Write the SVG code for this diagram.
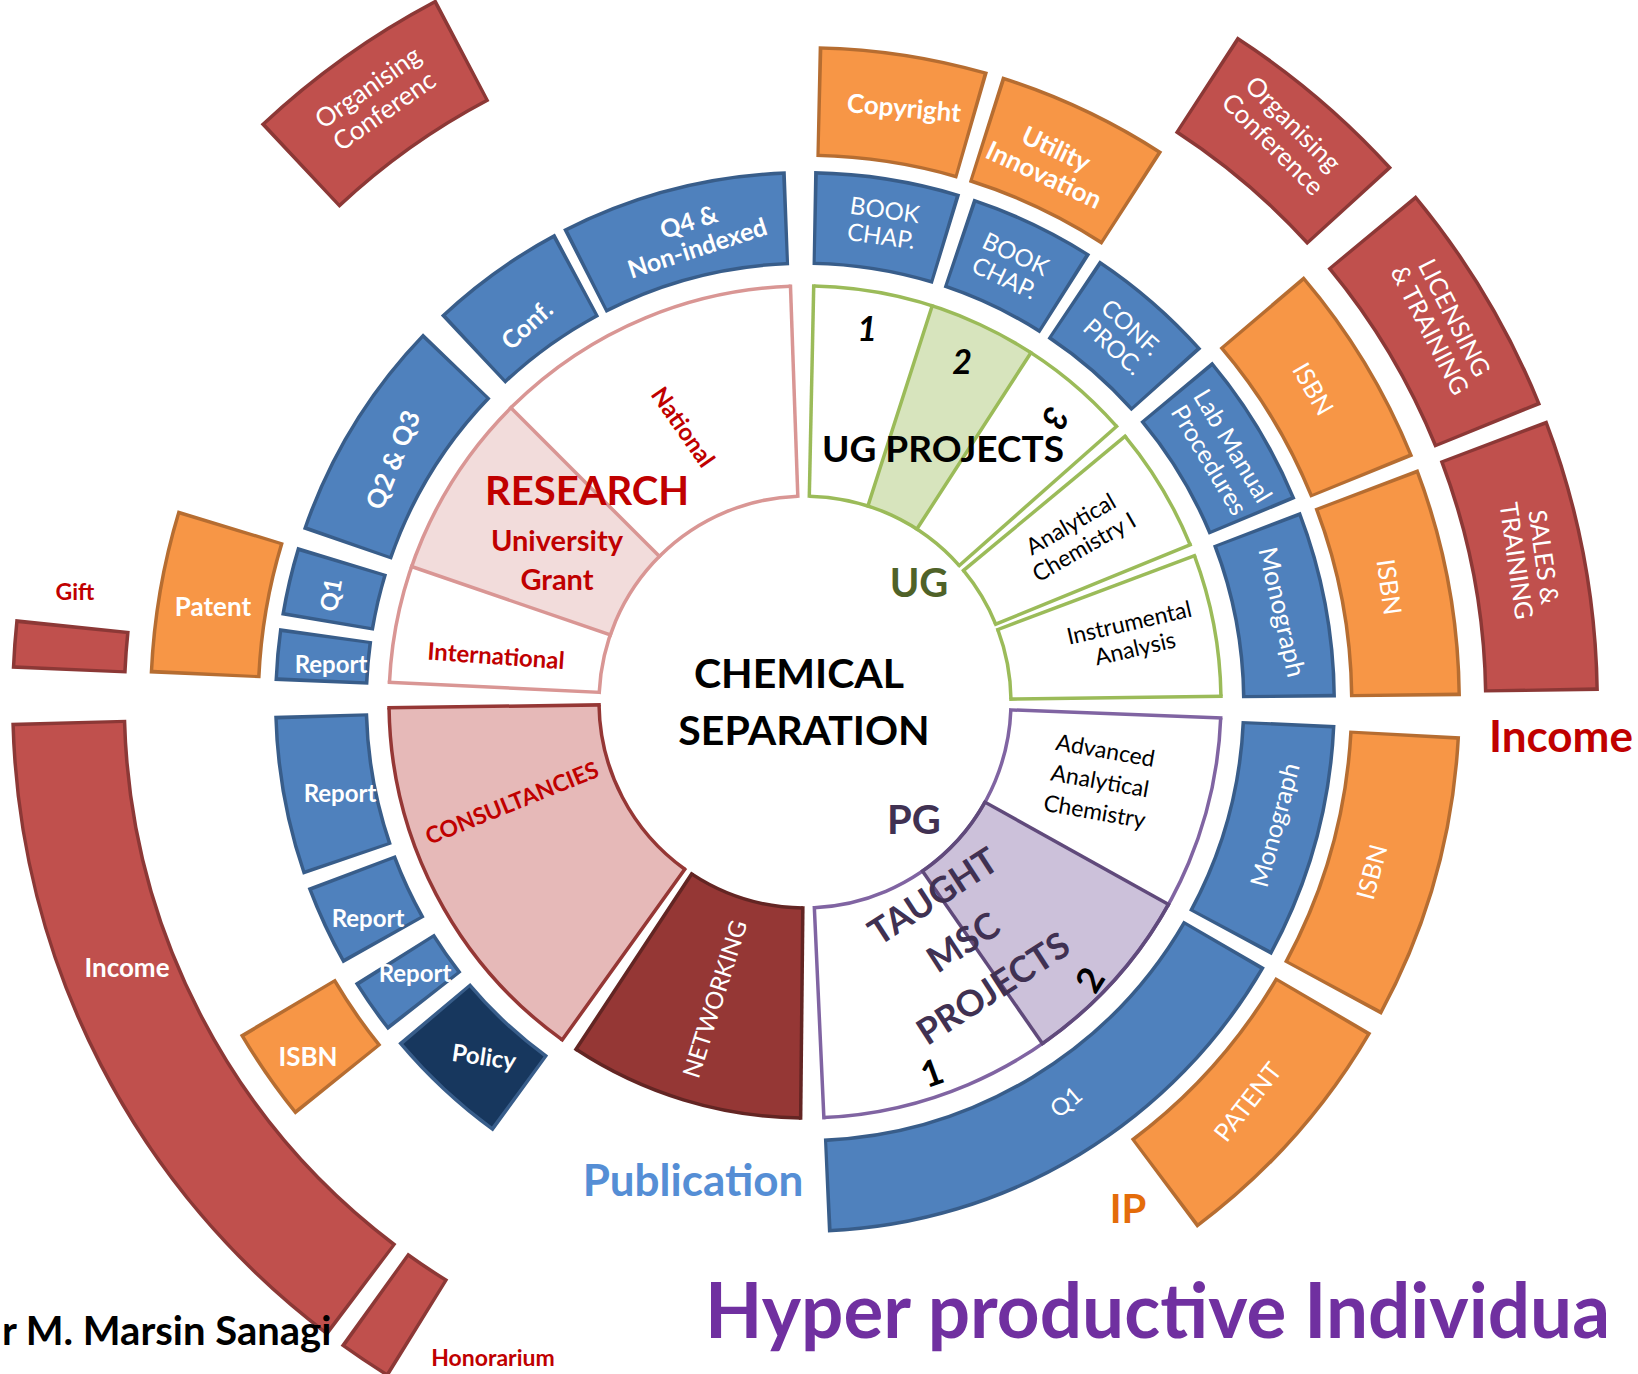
<svg xmlns="http://www.w3.org/2000/svg" xmlns:xlink="http://www.w3.org/1999/xlink" width="1638" height="1374" viewBox="0 0 1638 1374">
<defs>
<style>
text{font-family:Lato,'Open Sans','DejaVu Sans',sans-serif;text-anchor:middle}
.w{fill:#fff}
.b{font-weight:bold}
.bb{stroke:#385D8A;stroke-width:94}
.bf{stroke:#4F81BD;stroke-width:87}
.nf{stroke:#17375E;stroke-width:87}
.ob{stroke:#B66D31;stroke-width:111}
.of{stroke:#F79646;stroke-width:104}
.rb{stroke:#8C3836;stroke-width:115}
.rf{stroke:#C0504D;stroke-width:108}
.f1{stroke-width:210}
.a1{stroke-width:3.5}
.rl{stroke-width:3.5;stroke-linecap:square}
</style>
<path id="c206" d="M1011 702A206 206 0 0 1 599 702A206 206 0 0 1 1011 702" pathLength="360" fill="none"/>
<path id="c311" d="M1116 702A311 311 0 0 1 494 702A311 311 0 0 1 1116 702" pathLength="360" fill="none"/>
<path id="c416" d="M1221 702A416 416 0 0 1 389 702A416 416 0 0 1 1221 702" pathLength="360" fill="none"/>
<path id="c484" d="M1289 702A484 484 0 0 1 321 702A484 484 0 0 1 1289 702" pathLength="360" fill="none"/>
<path id="c600" d="M1405.5 702A600.5 600.5 0 0 1 204.5 702A600.5 600.5 0 0 1 1405.5 702" pathLength="360" fill="none"/>
<path id="c736" d="M1541.5 702A736.5 736.5 0 0 1 68.5 702A736.5 736.5 0 0 1 1541.5 702" pathLength="360" fill="none"/>
<line id="rad" x1="1011" y1="702" x2="1221" y2="702"/>
</defs>
<rect width="1638" height="1374" fill="#fff"/>

<!-- Inner ring: RESEARCH -->
<g id="research" stroke="#D99694">
<use href="#c311" class="f1" stroke="#fff" stroke-dasharray="0 182.7 85.3 999"/>
<use href="#c311" class="f1" stroke="#F2DCDB" stroke-dasharray="0 199 26 999"/>
<use href="#c206" class="a1" stroke-dasharray="0 182.7 85.3 999"/>
<use href="#c416" class="a1" stroke-dasharray="0 182.7 85.3 999"/>
<use href="#rad" class="rl" transform="rotate(-92 805 702)"/>
<use href="#rad" class="rl" transform="rotate(-135 805 702)"/>
<use href="#rad" class="rl" transform="rotate(-161 805 702)"/>
<use href="#rad" class="rl" transform="rotate(-177.3 805 702)"/>
<text x="587" y="505" class="b" font-size="40" fill="#C00000" stroke="none">RESEARCH</text>
<text x="557" y="551" class="b" font-size="29" fill="#C00000" stroke="none">University</text>
<text x="557" y="590" class="b" font-size="29" fill="#C00000" stroke="none">Grant</text>
<text transform="translate(683 427) rotate(55)" dy="0.35em" class="b" font-size="24" fill="#C00000" stroke="none">National</text>
<text transform="translate(496 656) rotate(4)" dy="0.35em" class="b" font-size="24" fill="#C00000" stroke="none">International</text>
</g>

<!-- Inner ring: UG -->
<g id="ug" stroke="#9BBB59">
<use href="#c311" class="f1" stroke="#fff" stroke-dasharray="0 271.2 47.3 999"/>
<use href="#c311" class="f1" stroke="#D7E4BD" stroke-dasharray="0 287.8 15.1 999"/>
<use href="#c206" class="a1" stroke-dasharray="0 271.2 47.3 999"/>
<use href="#c416" class="a1" stroke-dasharray="0 271.2 47.3 999"/>
<use href="#rad" class="rl" transform="rotate(-88.8 805 702)"/>
<use href="#rad" class="rl" transform="rotate(-72.2 805 702)"/>
<use href="#rad" class="rl" transform="rotate(-57.1 805 702)"/>
<use href="#rad" class="rl" transform="rotate(-41.5 805 702)"/>
<text x="943" y="462" class="b" font-size="37" fill="#000" stroke="none">UG PROJECTS</text>
<text x="867" y="341" class="b" font-size="34" font-style="italic" fill="#000" stroke="none">1</text>
<text x="962" y="374" class="b" font-size="34" font-style="italic" fill="#000" stroke="none">2</text>
<text transform="translate(1055 418) rotate(115)" dy="0.35em" class="b" font-size="34" font-style="italic" fill="#000" stroke="none">3</text>
<text x="919" y="597" class="b" font-size="40" fill="#4F6228" stroke="none">UG</text>
</g>
<g id="ug-analytical" stroke="#9BBB59">
<use href="#c206" class="a1" stroke-dasharray="0 320.3 17.5 999"/>
<use href="#c416" class="a1" stroke-dasharray="0 320.3 17.5 999"/>
<use href="#rad" class="rl" transform="rotate(-39.7 805 702)"/>
<use href="#rad" class="rl" transform="rotate(-22.2 805 702)"/>
<text transform="translate(1077 535) rotate(-30)" font-size="23" fill="#000" stroke="none"><tspan x="0" dy="-0.2em">Analytical</tspan><tspan x="0" dy="1.15em">Chemistry I</tspan></text>
</g>
<g id="ug-instrumental" stroke="#9BBB59">
<use href="#c206" class="a1" stroke-dasharray="0 339.4 19.8 999"/>
<use href="#c416" class="a1" stroke-dasharray="0 339.4 19.8 999"/>
<use href="#rad" class="rl" transform="rotate(-20.6 805 702)"/>
<use href="#rad" class="rl" transform="rotate(-0.8 805 702)"/>
<text transform="translate(1132 635) rotate(-13)" font-size="23" fill="#000" stroke="none"><tspan x="0" dy="-0.2em">Instrumental</tspan><tspan x="0" dy="1.15em">Analysis</tspan></text>
</g>

<!-- Inner ring: PG -->
<g id="pg" stroke="#8064A2">
<use href="#c311" class="f1" stroke="#CCC1DA" stroke-dasharray="0 29.1 26.1 999"/>
<use href="#c206" class="a1" stroke-dasharray="0 2.2 85.2 999"/>
<use href="#c416" class="a1" stroke-dasharray="0 2.2 85.2 999"/>
<use href="#rad" class="rl" transform="rotate(2.2 805 702)"/>
<use href="#rad" class="rl" transform="rotate(87.4 805 702)"/>
<g stroke="#604A7B">
<use href="#c206" class="a1" stroke-dasharray="0 29.1 26.1 999"/>
<use href="#c416" class="a1" stroke-dasharray="0 29.1 26.1 999"/>
<use href="#rad" class="rl" transform="rotate(29.1 805 702)"/>
<use href="#rad" class="rl" transform="rotate(55.2 805 702)"/>
</g>
<text transform="translate(1100 781) rotate(10)" font-size="23" fill="#000" stroke="none"><tspan x="0" dy="-23">Advanced</tspan><tspan x="0" dy="31">Analytical</tspan><tspan x="0" dy="31">Chemistry</tspan></text>
<text x="914" y="834" class="b" font-size="40" fill="#403152" stroke="none">PG</text>
<text transform="translate(963 942) rotate(-33)" class="b" font-size="36" fill="#403152" stroke="none"><tspan x="0" y="-42">TAUGHT</tspan><tspan x="0" y="13">MSC</tspan><tspan x="0" y="68">PROJECTS</tspan></text>
<text transform="translate(1090 980) rotate(-58)" dy="0.35em" class="b" font-size="36" fill="#000" stroke="none">2</text>
<text transform="translate(932 1073) rotate(-20)" dy="0.35em" class="b" font-size="36" fill="#000" stroke="none">1</text>
</g>

<!-- Inner ring: consultancies / networking -->
<g id="consultancies" stroke="#953735">
<use href="#c311" class="f1" stroke="#E6B9B8" stroke-dasharray="0 125.7 53.5 999"/>
<use href="#c206" class="a1" stroke-dasharray="0 125.7 53.5 999"/>
<use href="#c416" class="a1" stroke-dasharray="0 125.7 53.5 999"/>
<use href="#rad" class="rl" transform="rotate(-180.8 805 702)"/>
<use href="#rad" class="rl" transform="rotate(-234.3 805 702)"/>
<text transform="translate(512 803) rotate(-22)" dy="0.35em" class="b" font-size="23" fill="#C00000" stroke="none">CONSULTANCIES</text>
</g>
<g id="networking" stroke="#632523">
<use href="#c311" class="f1" stroke="#953735" stroke-dasharray="0 90.6 32.8 999"/>
<use href="#c206" class="a1" stroke-dasharray="0 90.6 32.8 999"/>
<use href="#c416" class="a1" stroke-dasharray="0 90.6 32.8 999"/>
<use href="#rad" class="rl" transform="rotate(-236.6 805 702)"/>
<use href="#rad" class="rl" transform="rotate(-269.4 805 702)"/>
<text transform="translate(715 999) rotate(-72.5)" dy="0.35em" font-size="24" class="w" stroke="none">NETWORKING</text>
</g>

<g id="center-title">
<text x="799" y="688" class="b" font-size="41" fill="#000">CHEMICAL</text>
<text x="804" y="745" class="b" font-size="41" fill="#000">SEPARATION</text>
</g>

<!-- Ring 2: publications (blue) -->
<g id="pub-q4"><use href="#c484" class="bb" stroke-dasharray="0 242.9 25 999"/><use href="#c484" class="bf" stroke-dasharray="0 243.31 24.18 999"/>
<text transform="translate(693 235) rotate(-18)" font-size="25" class="w b"><tspan x="0" dy="-0.2em">Q4 &amp;</tspan><tspan x="0" dy="1.1em">Non-indexed</tspan></text></g>
<g id="pub-conf"><use href="#c484" class="bb" stroke-dasharray="0 226.7 15.2 999"/><use href="#c484" class="bf" stroke-dasharray="0 227.11 14.38 999"/>
<text transform="translate(527 325) rotate(-42)" dy="0.35em" font-size="25" class="w b">Conf.</text></g>
<g id="pub-q2q3"><use href="#c484" class="bb" stroke-dasharray="0 199 25 999"/><use href="#c484" class="bf" stroke-dasharray="0 199.41 24.18 999"/>
<text transform="translate(393 460) rotate(-68)" dy="0.35em" font-size="26" class="w b">Q2 &amp; Q3</text></g>
<g id="pub-q1"><use href="#c484" class="bb" stroke-dasharray="0 189.4 7.6 999"/><use href="#c484" class="bf" stroke-dasharray="0 189.81 6.78 999"/>
<text transform="translate(331 595) rotate(-80)" dy="0.35em" font-size="24" class="w b">Q1</text></g>
<g id="pub-report1"><use href="#c484" class="bb" stroke-dasharray="0 182.3 5.7 999"/><use href="#c484" class="bf" stroke-dasharray="0 182.71 4.88 999"/>
<text x="331" y="673" font-size="24" class="w b">Report</text></g>
<g id="pub-report2"><use href="#c484" class="bb" stroke-dasharray="0 161 17.5 999"/><use href="#c484" class="bf" stroke-dasharray="0 161.41 16.68 999"/>
<text x="340" y="802" font-size="24" class="w b">Report</text></g>
<g id="pub-report3"><use href="#c484" class="bb" stroke-dasharray="0 150.5 9 999"/><use href="#c484" class="bf" stroke-dasharray="0 150.91 8.18 999"/>
<text x="368" y="927" font-size="24" class="w b">Report</text></g>
<g id="pub-report4"><use href="#c484" class="bb" stroke-dasharray="0 141.8 6.2 999"/><use href="#c484" class="bf" stroke-dasharray="0 142.21 5.38 999"/>
<text x="415" y="982" font-size="24" class="w b">Report</text></g>
<g id="pub-policy"><use href="#c484" class="bb" stroke-dasharray="0 126 14 999"/><use href="#c484" class="nf" stroke-dasharray="0 126.41 13.18 999"/>
<text transform="translate(484 1057) rotate(8)" dy="0.35em" font-size="24" class="w b">Policy</text></g>
<g id="pub-bookchap1"><use href="#c484" class="bb" stroke-dasharray="0 271 16 999"/><use href="#c484" class="bf" stroke-dasharray="0 271.41 15.18 999"/>
<text transform="translate(883 223) rotate(8)" font-size="24" class="w"><tspan x="0" dy="-0.2em">BOOK</tspan><tspan x="0" dy="1.1em">CHAP.</tspan></text></g>
<g id="pub-bookchap2"><use href="#c484" class="bb" stroke-dasharray="0 288.5 14 999"/><use href="#c484" class="bf" stroke-dasharray="0 288.91 13.18 999"/>
<text transform="translate(1010 266) rotate(25)" font-size="24" class="w"><tspan x="0" dy="-0.2em">BOOK</tspan><tspan x="0" dy="1.1em">CHAP.</tspan></text></g>
<g id="pub-confproc"><use href="#c484" class="bb" stroke-dasharray="0 303.7 14.6 999"/><use href="#c484" class="bf" stroke-dasharray="0 304.11 13.78 999"/>
<text transform="translate(1122 337) rotate(42)" font-size="24" class="w"><tspan x="0" dy="-0.2em">CONF.</tspan><tspan x="0" dy="1.1em">PROC.</tspan></text></g>
<g id="pub-labmanual"><use href="#c484" class="bb" stroke-dasharray="0 320.1 17.4 999"/><use href="#c484" class="bf" stroke-dasharray="0 320.51 16.58 999"/>
<text transform="translate(1221 453) rotate(59)" font-size="25" class="w"><tspan x="0" dy="-0.2em">Lab Manual</tspan><tspan x="0" dy="1.1em">Procedures</tspan></text></g>
<g id="pub-monograph1"><use href="#c484" class="bb" stroke-dasharray="0 339 20.5 999"/><use href="#c484" class="bf" stroke-dasharray="0 339.41 19.68 999"/>
<text transform="translate(1282 612) rotate(77)" dy="0.35em" font-size="26" class="w">Monograph</text></g>
<g id="pub-monograph2"><use href="#c484" class="bb" stroke-dasharray="0 2.5 26 999"/><use href="#c484" class="bf" stroke-dasharray="0 2.91 25.18 999"/>
<text transform="translate(1275 825) rotate(-75)" dy="0.35em" font-size="25" class="w">Monograph</text></g>
<g id="pub-q1-big"><use href="#c484" class="bb" stroke-dasharray="0 30 57.5 999"/><use href="#c484" class="bf" stroke-dasharray="0 30.41 56.68 999"/>
<text transform="translate(1066 1102) rotate(-40)" dy="0.35em" font-size="24" class="w">Q1</text></g>

<!-- Ring 3: IP (orange) -->
<g id="ip-copyright"><use href="#c600" class="ob" stroke-dasharray="0 271.2 15 999"/><use href="#c600" class="of" stroke-dasharray="0 271.53 14.34 999"/>
<text transform="translate(904 108) rotate(5)" dy="0.35em" font-size="26" class="w b">Copyright</text></g>
<g id="ip-utility"><use href="#c600" class="ob" stroke-dasharray="0 287.5 15.5 999"/><use href="#c600" class="of" stroke-dasharray="0 287.83 14.84 999"/>
<text transform="translate(1050 162) rotate(25)" font-size="26" class="w b"><tspan x="0" dy="-0.2em">Utility</tspan><tspan x="0" dy="1.1em">Innovation</tspan></text></g>
<g id="ip-isbn1"><use href="#c600" class="ob" stroke-dasharray="0 319.5 18.5 999"/><use href="#c600" class="of" stroke-dasharray="0 319.83 17.84 999"/>
<text transform="translate(1313 389) rotate(60)" dy="0.35em" font-size="25" class="w">ISBN</text></g>
<g id="ip-isbn2"><use href="#c600" class="ob" stroke-dasharray="0 339.2 20.3 999"/><use href="#c600" class="of" stroke-dasharray="0 339.53 19.64 999"/>
<text transform="translate(1389 587) rotate(82)" dy="0.35em" font-size="25" class="w">ISBN</text></g>
<g id="ip-isbn3"><use href="#c600" class="ob" stroke-dasharray="0 3 25.5 999"/><use href="#c600" class="of" stroke-dasharray="0 3.33 24.84 999"/>
<text transform="translate(1372 872) rotate(-75)" dy="0.35em" font-size="25" class="w">ISBN</text></g>
<g id="ip-patent1"><use href="#c600" class="ob" stroke-dasharray="0 30.3 23 999"/><use href="#c600" class="of" stroke-dasharray="0 30.63 22.34 999"/>
<text transform="translate(1248 1102) rotate(-52)" dy="0.35em" font-size="25" class="w">PATENT</text></g>
<g id="ip-patent2"><use href="#c600" class="ob" stroke-dasharray="0 182.5 14.5 999"/><use href="#c600" class="of" stroke-dasharray="0 182.83 13.84 999"/>
<text x="213" y="616" font-size="26" class="w b">Patent</text></g>
<g id="ip-isbn4"><use href="#c600" class="ob" stroke-dasharray="0 141 8.5 999"/><use href="#c600" class="of" stroke-dasharray="0 141.33 7.84 999"/>
<text x="308" y="1066" font-size="26" class="w b">ISBN</text></g>

<!-- Ring 4: income (red) -->
<g id="inc-orgconf1"><use href="#c736" class="rb" stroke-dasharray="0 226.7 15.6 999"/><use href="#c736" class="rf" stroke-dasharray="0 226.97 15.06 999"/>
<text transform="translate(376 99) rotate(-35)" font-size="26" class="w"><tspan x="0" dy="-0.2em">Organising</tspan><tspan x="0" dy="1.1em">Conferenc</tspan></text></g>
<g id="inc-gift"><use href="#c736" class="rb" stroke-dasharray="0 182.4 3.6 999"/><use href="#c736" class="rf" stroke-dasharray="0 182.67 3.06 999"/></g>
<g id="inc-income"><use href="#c736" class="rb" stroke-dasharray="0 127 51.5 999"/><use href="#c736" class="rf" stroke-dasharray="0 127.27 50.96 999"/>
<text x="127" y="977" font-size="26" class="w b">Income</text></g>
<g id="inc-honorarium"><use href="#c736" class="rb" stroke-dasharray="0 121.7 4.1 999"/><use href="#c736" class="rf" stroke-dasharray="0 121.97 3.56 999"/></g>
<g id="inc-orgconf2"><use href="#c736" class="rb" stroke-dasharray="0 303 14.7 999"/><use href="#c736" class="rf" stroke-dasharray="0 303.27 14.16 999"/>
<text transform="translate(1283 134) rotate(45)" font-size="26" class="w"><tspan x="0" dy="-0.2em">Organising</tspan><tspan x="0" dy="1.1em">Conference</tspan></text></g>
<g id="inc-licensing"><use href="#c736" class="rb" stroke-dasharray="0 320.3 17.7 999"/><use href="#c736" class="rf" stroke-dasharray="0 320.57 17.16 999"/>
<text transform="translate(1442 324) rotate(63)" font-size="25" class="w"><tspan x="0" dy="-0.2em">LICENSING</tspan><tspan x="0" dy="1.1em">&amp; TRAINING</tspan></text></g>
<g id="inc-sales"><use href="#c736" class="rb" stroke-dasharray="0 339.2 20 999"/><use href="#c736" class="rf" stroke-dasharray="0 339.47 19.46 999"/>
<text transform="translate(1530 559) rotate(82)" font-size="25" class="w"><tspan x="0" dy="-0.2em">SALES &amp;</tspan><tspan x="0" dy="1.1em">TRAINING</tspan></text></g>

<g id="labels">
<text x="75" y="600" class="b" font-size="23" fill="#C00000">Gift</text>
<text x="493" y="1366" class="b" font-size="23" fill="#C00000">Honorarium</text>
<text x="693" y="1196" class="b" font-size="44" fill="#558ED5">Publication</text>
<text x="1128" y="1223" class="b" font-size="40" fill="#E46C0A">IP</text>
<text x="1489" y="752" class="b" font-size="44" fill="#C00000" style="text-anchor:start">Income</text>
<text x="705" y="1338" class="b" font-size="76" fill="#7030A0" style="text-anchor:start" textLength="905" lengthAdjust="spacingAndGlyphs">Hyper productive Individua</text>
<text x="2" y="1345" class="b" font-size="40" fill="#000" style="text-anchor:start">r M. Marsin Sanagi</text>
</g>
</svg>
